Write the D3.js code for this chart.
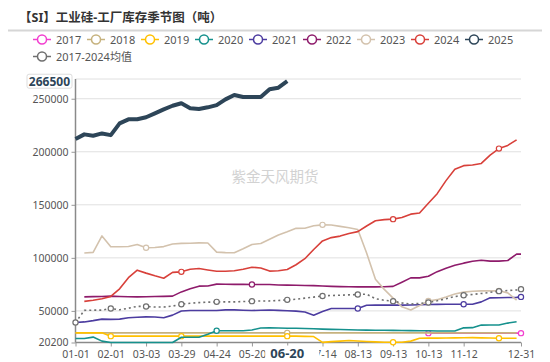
<!DOCTYPE html>
<html>
<head>
<meta charset="utf-8">
<script src="https://cdn.jsdelivr.net/npm/d3@7"></script>
<style>
  body { margin: 0; background: #fff; }
  svg { display: block; font-family: "Noto Sans", "Noto Sans CJK SC", sans-serif; }
</style>
</head>
<body>
<div id="chart"></div>
<script>
// categories on the x axis (union of report dates)
const categories = ["01-01","01-03","01-06","01-10","01-13","01-17","01-20","01-24","02-01","02-03",
  "02-07","02-10","02-14","02-17","02-21","02-24","03-03","03-06","03-08","03-10",
  "03-14","03-17","03-21","03-24","03-29","03-31","04-03","04-07","04-10","04-14",
  "04-17","04-21","04-24","04-28","04-30","05-05","05-08","05-09","05-12","05-15",
  "05-20","05-22","05-26","05-29","06-02","06-05","06-09","06-13","06-20","06-23",
  "06-27","06-30","07-04","07-07","07-10","07-11","07-14","07-18","07-21","07-25",
  "07-28","08-01","08-04","08-08","08-13","08-15","08-18","08-22","08-25","08-29",
  "09-01","09-05","09-13","09-15","09-19","09-22","09-26","09-29","09-30","10-10",
  "10-13","10-17","10-20","10-24","10-27","10-31","11-03","11-07","11-12","11-14",
  "11-17","11-21","11-24","11-28","12-01","12-05","12-08","12-12","12-15","12-19",
  "12-26","12-31"];

// labelled ticks
const tickLabels = ["01-01","02-01","03-03","03-29","04-24","05-20","06-20","07-14","08-13","09-13","10-13","11-12","12-31"];
const markDates = ["01-01","02-01","03-03","03-29","04-24","05-20","06-20","07-14","08-13","09-13","10-13","11-12","12-08","12-31"];
const currentLabel = "06-20";

// weekly dates each series value belongs to
const weekDates = ["01-01","01-06","01-13","01-20","02-01","02-07","02-14","02-21","03-03","03-08",
  "03-14","03-21","03-29","04-03","04-10","04-17","04-24","04-30","05-08","05-12",
  "05-20","05-26","06-02","06-09","06-20","06-27","07-04","07-10","07-14","07-21",
  "07-28","08-04","08-13","08-18","08-25","09-01","09-13","09-19","09-26","09-30",
  "10-13","10-20","10-27","11-03","11-12","11-17","11-24","12-01","12-08","12-15",
  "12-26","12-31"];

const _ = null;
const s2017 = [_,_,_,_,_,_,_,_,_,_, _,_,_,_,_,_,_,_,_,_, _,_,_,_,_,_,_,_,_,_, _,_,_,_,_,_,_,_,_,_,
  29000,29000,29000,29000,29000,29000,29000,29000,29000,29000, 29000,29000];
const s2018 = [29300,29300,29300,29300,29300,29300,29300,29300,29300,29300,
  29300,29300,29300,29300,29300,29300,29300,29300,29300,29300,
  29300,29300,29300,29300,29300,29300,29300,29300,29300,29300,
  29300,29300,29300,29300,29300,29300,29300,29300,29300,29300,
  29300,29300,29300,29300,29300,29300,29300,29300,29300,29300, 29300,_];
const s2019 = [29300,29300,29300,29300,26200,26200,26200,26200,26200,26200,
  26200,26200,26200,26200,26200,26200,26200,26200,26200,26200,
  26200,26200,26200,26200,26200,26200,26000,25800,20300,21000,
  21500,22100,21600,21200,20800,20500,20400,20400,21500,24200,
  24300,24300,24400,24600,24700,24800,24600,24400,24200,24200, 24200,_];
const s2020 = [24000,24000,25300,21500,20200,20200,20200,20200,20200,20200,
  20200,20200,25100,25100,25100,28000,31300,31300,31300,31300,
  32000,33900,34000,33800,33700,33600,33400,33100,32800,32600,
  32400,32200,32000,31900,31800,31700,31600,31500,31400,31300,
  31300,31100,31000,31000,34000,34200,36600,36700,36700,38500, 39800,_];
const s2021 = [39000,39600,40800,42200,42000,42200,43600,44000,44400,44200,
  43600,46000,49900,50300,50300,50300,50300,51000,51000,50600,
  50300,50600,50900,50500,50200,49800,49000,45900,49500,52300,
  52300,52300,52300,55300,55400,55400,55400,55400,55600,55800,
  56000,56100,56300,56300,56300,56300,58500,62300,62400,62600, 62700,63200];
const s2022 = [_,63200,63400,63500,63900,63600,63300,63200,63300,63500,
  63700,63900,67900,70800,73300,73500,75200,75100,75000,75000,
  74900,74900,74900,74400,74300,74100,74000,73800,73400,73100,
  72900,72700,72600,72600,72600,72800,73100,77000,81100,81100,
  82700,87000,90200,93000,95000,96800,97800,96900,96900,97500, 103500,103500];
const s2023 = [_,104500,105200,120700,110500,110500,110700,112500,109500,109700,
  110600,113000,113600,113800,114100,114000,105400,104900,104800,108500,
  112600,113500,117500,121500,124500,127800,127900,130200,131100,131000,
  129700,128300,126800,104500,79800,70300,62000,53800,50900,55000,
  59400,60600,63100,65900,67700,68500,68900,68900,68900,67000, 60100,_];
const s2024 = [_,59000,60000,61500,63600,70800,81300,88400,85600,83100,
  80800,86300,86800,89300,89900,88600,87400,87300,87800,89200,
  91200,90500,87500,87800,89000,93500,99200,107900,116000,119100,
  120500,122900,124700,130000,135000,136000,136500,138000,141200,142300,
  151400,160500,172800,183500,186900,187600,189000,196800,203000,206000, 211200,_];
const s2025 = [212000,216400,215100,217300,215700,226800,230600,230600,232500,236200,
  240000,243400,245700,241000,240300,241900,244000,249400,253500,251600,
  251600,251600,258900,260400,266500,_,_,_,_,_, _,_,_,_,_,_,_,_,_,_,
  _,_,_,_,_,_,_,_,_,_, _,_];
const sAvg = [39000,50500,50700,50700,52300,51000,52500,54300,54200,53600,
  53600,54500,56300,57200,57800,58200,58500,58500,58500,58800,
  59200,59300,59400,59800,60400,61000,62000,63000,64100,64500,
  64800,65100,65500,65800,61500,60000,59200,57500,56500,57000,
  57900,59500,61500,63500,64800,65500,66400,67500,68600,69200, 69700,70500];

const yTicks = [20200, 50000, 100000, 150000, 200000, 250000];
const yMin = 20200, yMax = 268600, lastValue = 266500;

const series = [
  {name: "2017", values: s2017, color: "#f23fcf", marks: ["10-13","12-31"]},
  {name: "2018", values: s2018, color: "#c6b27e", marks: ["06-20"]},
  {name: "2019", values: s2019, color: "#ffc000", marks: ["02-01","03-29","06-20","09-13","12-08"]},
  {name: "2020", values: s2020, color: "#16918d", marks: ["04-24"]},
  {name: "2021", values: s2021, color: "#4c3ca0", marks: ["08-13","11-12","12-31"]},
  {name: "2022", values: s2022, color: "#8e1b6b", marks: ["05-20"]},
  {name: "2023", values: s2023, color: "#d3c2ad", marks: ["03-03","07-14","10-13","12-08"]},
  {name: "2024", values: s2024, color: "#d8403a", marks: ["03-29","09-13","12-08"]},
  {name: "2025", values: s2025, color: "#2d4558", marks: [], width: 4},
  {name: "2017-2024均值", values: sAvg, color: "#6f6f6f", marks: markDates, dash: "2,3"}
];

const W = 550, H = 362;
const plotL = 75.5, plotR = 521, plotT = 79, plotB = 342.5;

const svg = d3.select("#chart").append("svg")
  .attr("width", W)
  .attr("height", H);

//title
svg.append("text")
  .attr("x", 19)
  .attr("y", 22)
  .attr("font-size", 12.5)
  .attr("font-weight", "bold")
  .attr("fill", "#333")
  .text("【SI】工业硅-工厂库存季节图（吨）");
svg.append("line")
  .attr("x1", 8).attr("x2", 542)
  .attr("y1", 30.5).attr("y2", 30.5)
  .attr("stroke", "#d6d6d6")
  .attr("stroke-width", 2);

//legend
const legend = svg.append("g");
const legItems = legend.selectAll("g")
  .data(series)
  .enter()
  .append("g")
  .attr("transform", (d, i) => i < 9 ? `translate(${33 + i * 54},39.5)` : "translate(33,56.5)");
legItems.append("line")
  .attr("x1", 0).attr("x2", 18)
  .attr("stroke", d => d.color)
  .attr("stroke-width", 1.5);
legItems.append("circle")
  .attr("cx", 9).attr("r", 4.5)
  .attr("fill", "#fff")
  .attr("stroke", d => d.color)
  .attr("stroke-width", 1.5);
legItems.append("text")
  .attr("x", 23).attr("y", 4)
  .attr("font-size", 11)
  .attr("fill", "#555")
  .text(d => d.name);

//scales
const xScale = d3.scalePoint()
  .domain(categories)
  .range([plotL, plotR]);
const yScale = d3.scaleLinear()
  .domain([yMin, yMax])
  .range([plotB, plotT]);

//grid
svg.append("g")
  .selectAll("line")
  .data(yTicks.slice(1).concat([yMax]))
  .enter()
  .append("line")
  .attr("x1", plotL).attr("x2", plotR)
  .attr("y1", d => yScale(d)).attr("y2", d => yScale(d))
  .attr("stroke", "#e0e0e0");

//watermark
svg.append("text")
  .attr("x", 275).attr("y", 182)
  .attr("text-anchor", "middle")
  .attr("font-size", 14.5)
  .attr("fill", "#d2d2d2")
  .text("紫金天风期货");

//axes
const yAxis = d3.axisLeft(yScale)
  .tickValues(yTicks)
  .tickSize(4)
  .tickPadding(3)
  .tickFormat(d3.format("d"));
const gy = svg.append("g")
  .attr("transform", `translate(${plotL},0)`)
  .call(yAxis);
gy.select(".domain").remove();
gy.selectAll("line").attr("stroke", "#999");
gy.selectAll("text").attr("font-size", 10.5).attr("fill", "#555");
gy.attr("font-family", null);
svg.append("line")
  .attr("x1", plotL).attr("x2", plotL)
  .attr("y1", plotT).attr("y2", plotB)
  .attr("stroke", "#8a8a8a").attr("stroke-width", 1.5);

const xAxis = d3.axisBottom(xScale)
  .tickValues(tickLabels)
  .tickSize(4)
  .tickPadding(4);
const gx = svg.append("g")
  .attr("transform", `translate(0,${plotB})`)
  .call(xAxis);
gx.select(".domain").remove();
gx.selectAll("line").attr("stroke", "#999");
gx.selectAll("text").attr("font-size", 10.5).attr("fill", "#555");
gx.attr("font-family", null);
svg.append("line")
  .attr("x1", plotL).attr("x2", plotR)
  .attr("y1", plotB).attr("y2", plotB)
  .attr("stroke", "#8a8a8a").attr("stroke-width", 1.5);

//lines
const line = d3.line()
  .defined(d => d.v != null)
  .x(d => xScale(d.date))
  .y(d => yScale(d.v));

const plot = svg.append("g");
series.forEach(s => {
  const pts = weekDates.map((date, i) => ({date: date, v: s.values[i]}));
  plot.append("path")
    .datum(pts)
    .attr("d", line)
    .attr("fill", "none")
    .attr("stroke", s.color)
    .attr("stroke-width", s.width || 1.6)
    .attr("stroke-dasharray", s.dash || null)
    .attr("stroke-linejoin", "round");
  plot.selectAll(null)
    .data(pts.filter(p => p.v != null && s.marks.includes(p.date)))
    .enter()
    .append("circle")
    .attr("cx", d => xScale(d.date))
    .attr("cy", d => yScale(d.v))
    .attr("r", 2.6)
    .attr("fill", "#fff")
    .attr("stroke", s.color)
    .attr("stroke-width", 1.2);
});

//pointer labels
const yl = svg.append("g").attr("transform", `translate(0,${yScale(lastValue)})`);
yl.append("rect")
  .attr("x", 27).attr("y", -7).attr("width", 45).attr("height", 14).attr("rx", 2)
  .attr("fill", "#fff").attr("stroke", "#ddd");
yl.append("text")
  .attr("x", 70).attr("y", 4.5)
  .attr("text-anchor", "end")
  .attr("font-size", 12)
  .attr("font-weight", "bold")
  .attr("fill", "#2d4558")
  .text(d3.format("d")(lastValue));

const xl = svg.append("g").attr("transform", `translate(${xScale(currentLabel)},${plotB})`);
xl.append("rect")
  .attr("x", -22).attr("y", 3).attr("width", 54).attr("height", 18)
  .attr("fill", "#fff");
xl.append("text")
  .attr("y", 15.5)
  .attr("text-anchor", "middle")
  .attr("font-size", 13)
  .attr("font-weight", "bold")
  .attr("fill", "#2d4558")
  .text(currentLabel);
</script>
</body>
</html>
